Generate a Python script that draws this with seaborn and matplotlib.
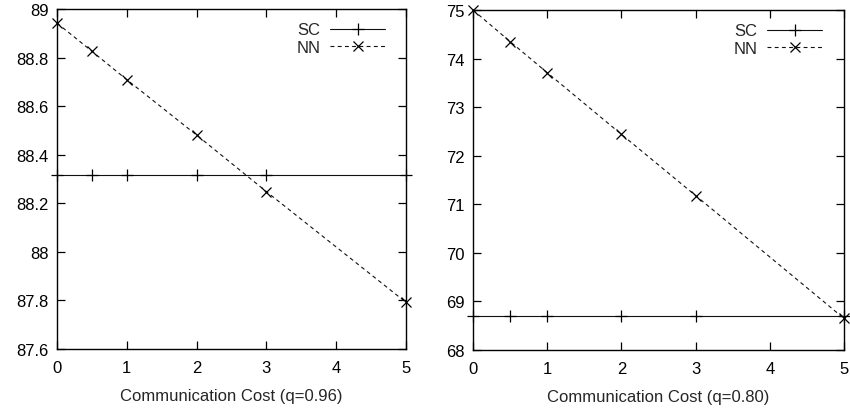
import matplotlib
matplotlib.use("Agg")
import matplotlib.pyplot as plt
import seaborn as sns
from matplotlib.ticker import FormatStrFormatter

# data
cost = [0, 0.5, 1, 2, 3, 5]
sc_left = [88.316, 88.316, 88.316, 88.316, 88.316, 88.316]
nn_left = [88.942, 88.826, 88.709, 88.481, 88.248, 87.792]
sc_right = [68.69, 68.69, 68.69, 68.69, 68.69, 68.69]
nn_right = [75.0, 74.35, 73.71, 72.44, 71.18, 68.65]
xlabels = ["Communication Cost (q=0.96)", "Communication Cost (q=0.80)"]
series = ["SC", "NN"]

sns.set_style("ticks")
plt.rcParams["font.family"] = ["Liberation Sans", "DejaVu Sans"]
plt.rcParams["font.size"] = 12

fig = plt.figure(figsize=(8.5, 4.1), dpi=100)
ax1 = fig.add_axes([57/850, 1-350/410, (406-57)/850, 340/410])
ax2 = fig.add_axes([473/850, 1-351/410, (844-473)/850, 340/410])

def draw(ax, sc, nn, ylim, yticks, xlabel, fmt):
    sns.lineplot(x=cost, y=sc, ax=ax, color="#111111", linestyle="-",
                 linewidth=0.8, marker="+", markersize=9,
                 markeredgewidth=0.9, markeredgecolor="black",
                 clip_on=False, label=series[0], legend=False)
    sns.lineplot(x=cost, y=nn, ax=ax, color="#111111", linestyle=(0, (3.5, 3)),
                 linewidth=0.8, marker="x", markersize=7.5,
                 markeredgewidth=0.9, markeredgecolor="black",
                 clip_on=False, label=series[1], legend=False)
    ax.set_xlim(0, 5)
    ax.set_ylim(*ylim)
    ax.set_xticks([0, 1, 2, 3, 4, 5])
    ax.set_yticks(yticks)
    ax.yaxis.set_major_formatter(FormatStrFormatter(fmt))
    ax.set_xlabel(xlabel, fontsize=12, labelpad=9)
    ax.set_ylabel("")
    for s in ax.spines.values():
        s.set_visible(True)
        s.set_linewidth(1.0)
        s.set_color("black")
    ax.tick_params(direction="in", top=True, right=True, length=6,
                   width=0.9, labelsize=12, colors="black")
    ax.tick_params(axis="x", pad=8)
    ax.tick_params(axis="y", pad=6)
    lines = ax.get_lines()
    ax.legend(handles=lines[:2], labels=series, loc="upper right",
              bbox_to_anchor=(0.96, 0.98),
              frameon=False, markerfirst=False, handlelength=3.3,
              handletextpad=0.6, labelspacing=0.15, numpoints=1,
              borderaxespad=0.0, fontsize=12)

draw(ax1, sc_left, nn_left, (87.6, 89.0),
     [87.6, 87.8, 88.0, 88.2, 88.4, 88.6, 88.8, 89.0], xlabels[0], "%g")
draw(ax2, sc_right, nn_right, (68, 75),
     [68, 69, 70, 71, 72, 73, 74, 75], xlabels[1], "%g")

fig.savefig("out.png", dpi=100)
